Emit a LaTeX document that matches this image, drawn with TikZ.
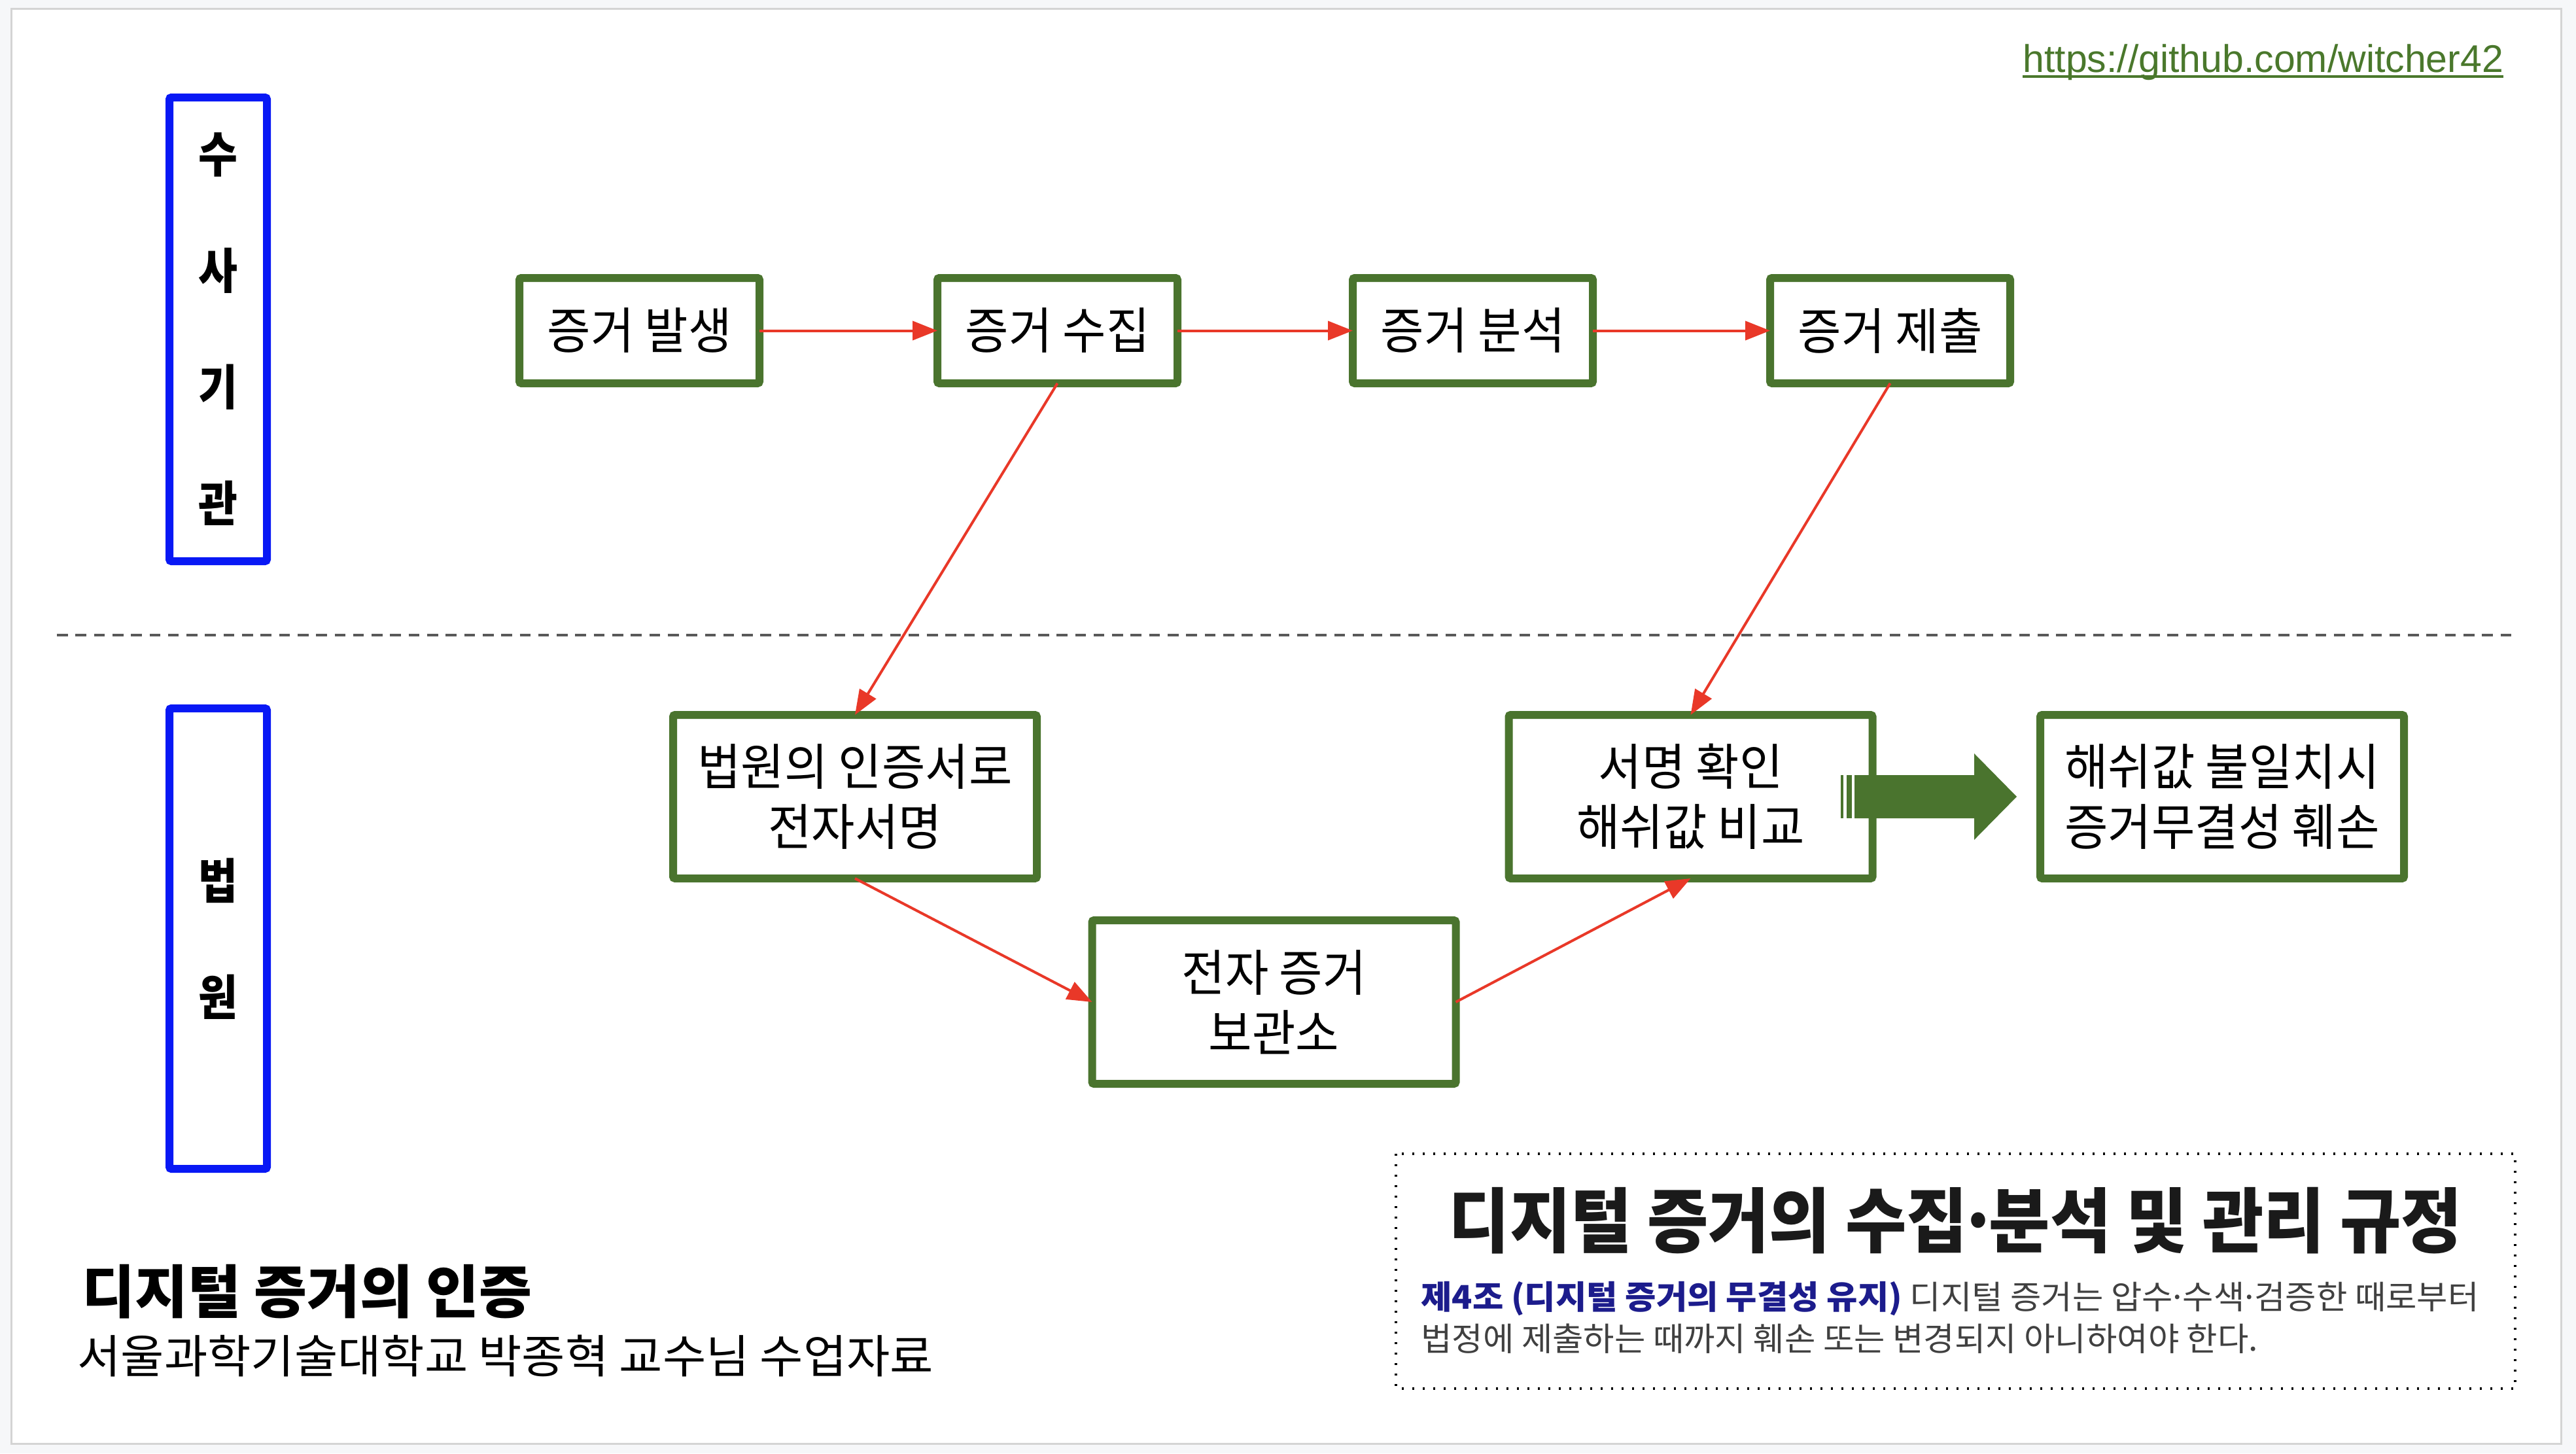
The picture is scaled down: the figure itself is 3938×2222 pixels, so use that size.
\documentclass[tikz,border=0pt]{standalone}
\usepackage{fontspec}
\setmainfont{Liberation Sans}
\newfontfamily\kr[FakeStretch=0.88]{Noto Sans CJK KR}
\newfontfamily\krbox[FakeStretch=0.95]{Noto Sans CJK KR}
\newfontfamily\krwide[FakeStretch=1.03]{Noto Sans CJK KR}
\newfontfamily\krt[FakeStretch=0.94]{Noto Sans CJK KR}
\newfontfamily\krc{Noto Sans CJK KR}
\newcommand{\kdot}{\makebox[0.3em][c]{·}}
\usetikzlibrary{arrows.meta}
\definecolor{grn}{RGB}{74,116,46}
\definecolor{blu}{RGB}{8,24,245}
\definecolor{rd}{RGB}{233,56,40}
\definecolor{navy}{RGB}{28,28,140}
\definecolor{bodygray}{RGB}{64,64,64}
\definecolor{urlgreen}{RGB}{74,120,44}
\definecolor{pagebg}{RGB}{246,247,249}
\definecolor{slideborder}{RGB}{212,212,212}
\definecolor{dashgray}{RGB}{89,89,89}
\definecolor{titleblack}{RGB}{26,26,26}
\tikzset{
  gbox/.style={draw=grn, line width=6pt, fill=white, rounded corners=1.5pt, outer sep=0pt, inner sep=0pt, align=center, font=\krbox\fontsize{38}{46}\selectfont},
  topbox/.style={gbox, minimum width=183.5pt, minimum height=80.5pt},
  lowbox/.style={gbox, minimum width=278pt, minimum height=125pt},
  bbox/.style={draw=blu, line width=6pt, rounded corners=1.5pt, outer sep=0pt, inner sep=0pt, align=center, minimum width=74.5pt, font=\kr\bfseries\fontsize{37}{89}\selectfont},
  redarrow/.style={draw=rd, line width=2pt, -{Triangle[length=19pt,width=14.5pt]}},
}
\begin{document}
\begin{tikzpicture}[x=0.5pt,y=-0.5pt]
\useasboundingbox (0,0) rectangle (3938,2222);
\fill[pagebg] (0,0) rectangle (3938,2222);
\filldraw[fill=white, draw=slideborder, line width=1.5pt] (17,13) rectangle (3915,2207);

% URL
\node[anchor=base west, inner sep=0pt, text=urlgreen, font=\fontsize{29.5}{35}\selectfont] (url) at (3092,110) {https://github.com/witcher42};
\draw[urlgreen, line width=1.6pt] ([yshift=-3.5pt]url.base west) -- ([yshift=-3.5pt]url.base east);

% side labels
\node[bbox, minimum height=354.5pt] (inv) at (333.5,503.5) {수\\사\\기\\관};
\node[bbox, minimum height=352pt] (court0) at (333.5,1435) {법\\원};

% divider
\coordinate (dl) at (87,971);
\coordinate (dr) at (3843,971);
\draw[dashgray, line width=2pt, dash pattern=on 8.3pt off 5.85pt] (dl) -- (dr);

% top row
\node[topbox] (ev1) at (977.5,505.5) {증거 발생};
\node[topbox] (ev2) at (1616.5,505.5) {증거 수집};
\node[topbox] (ev3) at (2251.5,505.5) {증거 분석};
\node[topbox] (ev4) at (2889.5,505.5) {증거 제출};

% lower row
\node[lowbox] (cert) at (1307,1218) {법원의 인증서로\\전자서명};
\node[lowbox] (store) at (1947.5,1532) {전자 증거\\보관소};
\node[lowbox] (verify) at (2584.5,1218) {서명 확인\\해쉬값 비교};
\node[lowbox] (broken) at (3397,1218) {해쉬값 불일치시\\증거무결성 훼손};

% red connectors
\draw[redarrow] (ev1.east) -- (ev2.west);
\draw[redarrow] (ev2.east) -- (ev3.west);
\draw[redarrow] (ev3.east) -- (ev4.west);
\draw[redarrow] (ev2.south) -- (cert.north);
\draw[redarrow] (ev4.south) -- (verify.north);
\draw[redarrow] (cert.south) -- (store.west);
\draw[redarrow] (store.east) -- (verify.south);

% striped block arrow
\fill[grn] (2835,1185) -- (3018,1185) -- (3018,1152) -- (3083,1218) -- (3018,1284) -- (3018,1251) -- (2835,1251) -- cycle;
\fill[grn] (2814,1185) rectangle (2818,1251);
\fill[grn] (2823,1185) rectangle (2831,1251);

% regulation box
\draw[black, line width=1.65pt, dash pattern=on 1.65pt off 6.35pt] (2134,1764) rectangle (3845,2123);
\node[text=titleblack, font=\krt\bfseries\fontsize{54}{60}\selectfont, inner sep=0pt] (regtitle) at (2989.5,1866) {디지털 증거의 수집\kdot 분석 및 관리 규정};
\node[anchor=west, align=left, inner sep=0pt, text=bodygray, font=\krwide\fontsize{25}{32}\selectfont] (regbody) at (2172,2014) {{\color{navy}\bfseries 제4조 (디지털 증거의 무결성 유지)} 디지털 증거는 압수\kdot 수색\kdot 검증한 때로부터\\법정에 제출하는 때까지 훼손 또는 변경되지 아니하여야 한다.};

% bottom-left caption
\node[anchor=west, inner sep=0pt, font=\krc\bfseries\fontsize{44}{50}\selectfont] (captitle) at (125,1974.5) {디지털 증거의 인증};
\node[anchor=west, inner sep=0pt, font=\krwide\fontsize{35}{40}\selectfont] (capsub) at (118,2073) {서울과학기술대학교 박종혁 교수님 수업자료};
\end{tikzpicture}
\end{document}
